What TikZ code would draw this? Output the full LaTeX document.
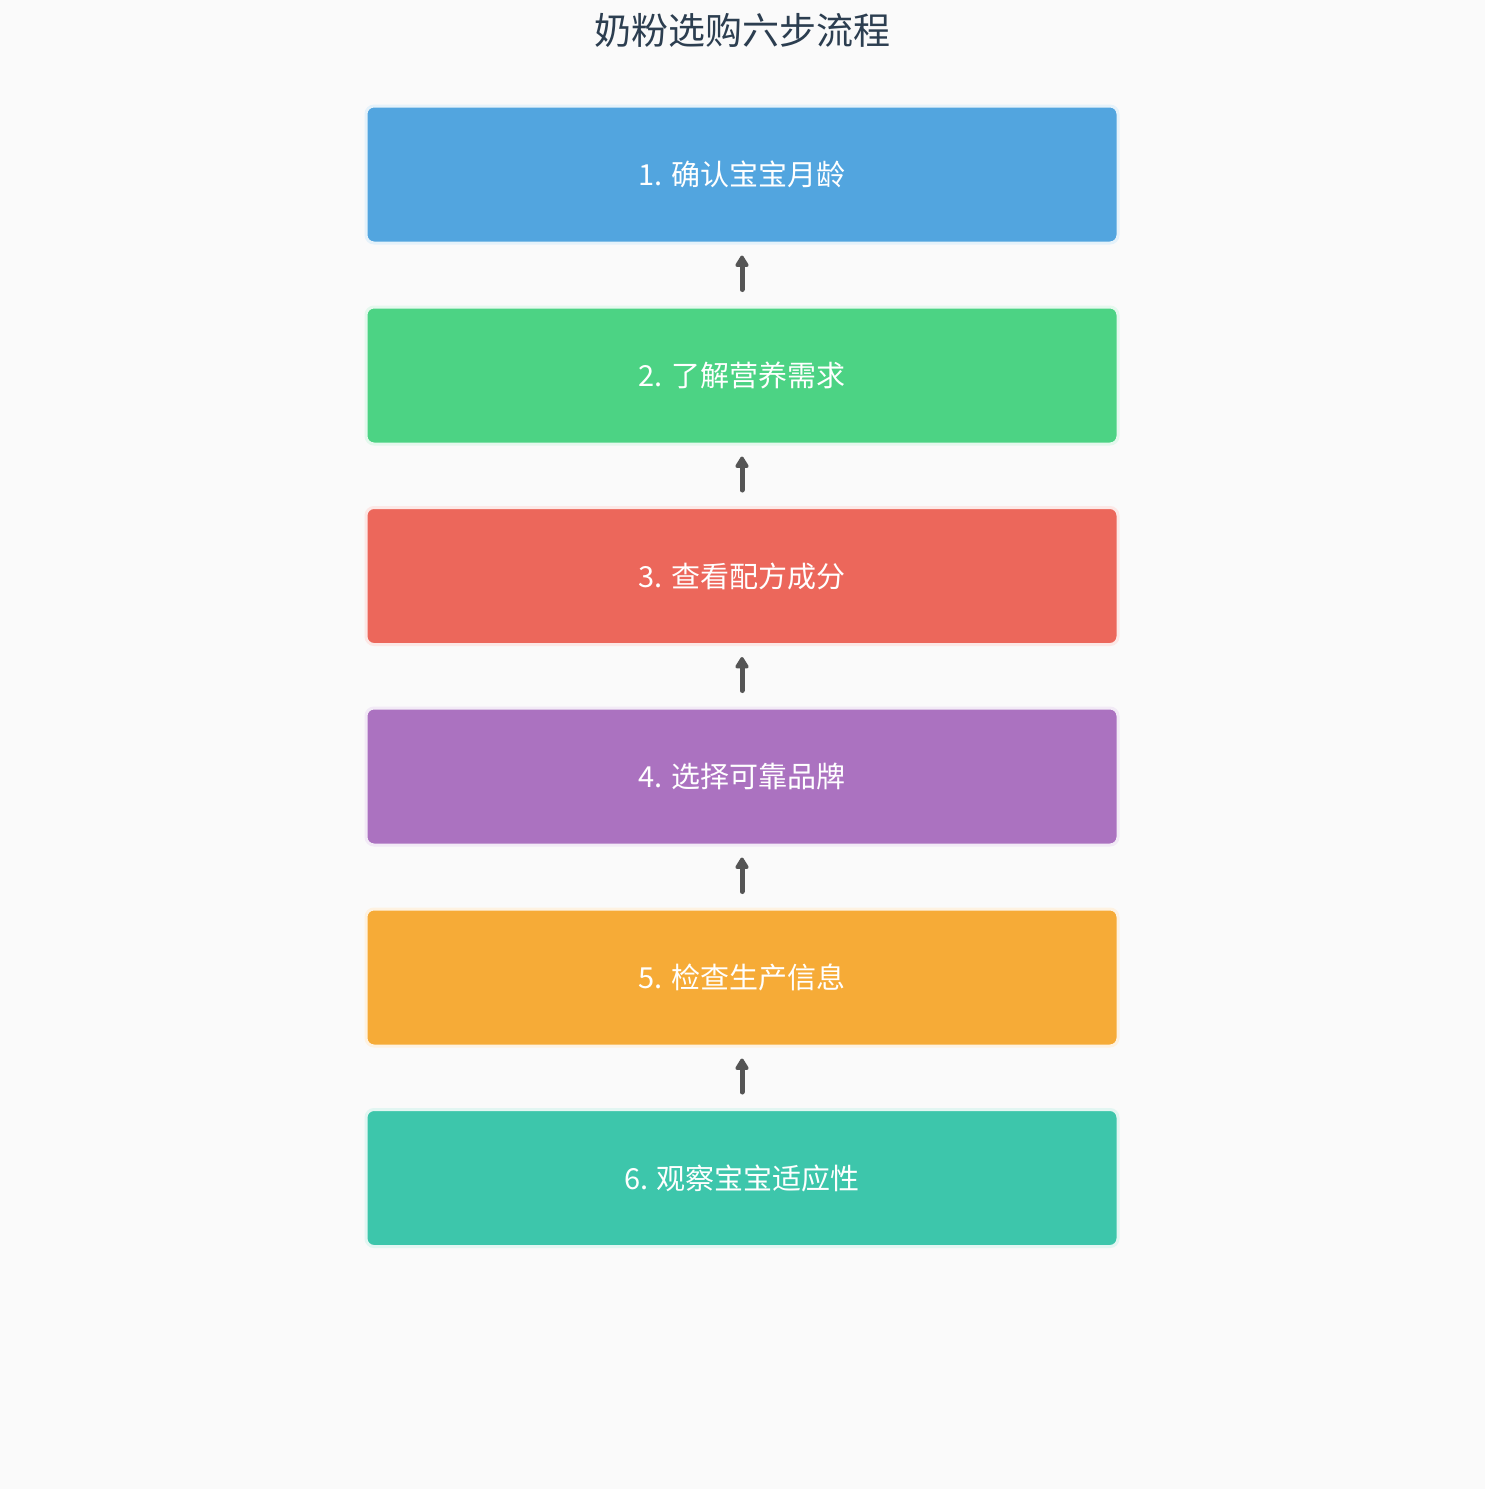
\documentclass[tikz,border=0pt]{standalone}
\usepackage{fontspec}
\setmainfont{Noto Sans CJK SC}
\usetikzlibrary{arrows.meta}
\definecolor{bgcol}{HTML}{FAFAFA}
\definecolor{titlecol}{HTML}{2C3E50}
\definecolor{arrowcol}{HTML}{555555}
\definecolor{stepblue}{HTML}{52A5DF}
\definecolor{stepgreen}{HTML}{4CD384}
\definecolor{stepred}{HTML}{EC675B}
\definecolor{steppurple}{HTML}{AB72C0}
\definecolor{steporange}{HTML}{F6AB37}
\definecolor{stepteal}{HTML}{3DC6AB}
\tikzset{
	stepbox/.style={rectangle, rounded corners=8pt, minimum width=752pt, minimum height=137pt, line width=3pt, draw=#1!15!white, fill=#1, text=white, font=\fontsize{29}{33}\selectfont},
	flow/.style={arrowcol, line width=5pt, line cap=round, -{Triangle[length=13pt,width=15pt,round]}, shorten >=11pt, shorten <=16pt}
}

\begin{document}
\begin{tikzpicture}[x=1pt,y=-1pt]
				\fill[bgcol] (0,0) rectangle (1485,1489);
				\useasboundingbox (0,0) rectangle (1485,1489);
				
				\node[titlecol, font=\fontsize{37}{41}\selectfont] (title) at (742,30) {奶粉选购六步流程};
				
				\node[stepbox=stepblue] (s1) at (742,174.5) {1. 确认宝宝月龄};
				\node[stepbox=stepgreen] (s2) at (742,375.5) {2. 了解营养需求};
				\node[stepbox=stepred] (s3) at (742,576) {3. 查看配方成分};
				\node[stepbox=steppurple] (s4) at (742,776.5) {4. 选择可靠品牌};
				\node[stepbox=steporange] (s5) at (742,977.5) {5. 检查生产信息};
				\node[stepbox=stepteal] (s6) at (742,1178) {6. 观察宝宝适应性};
				
				\draw[flow] (s2) -- (s1);
				\draw[flow] (s3) -- (s2);
				\draw[flow] (s4) -- (s3);
				\draw[flow] (s5) -- (s4);
				\draw[flow] (s6) -- (s5);
			\end{tikzpicture}
\end{document}
